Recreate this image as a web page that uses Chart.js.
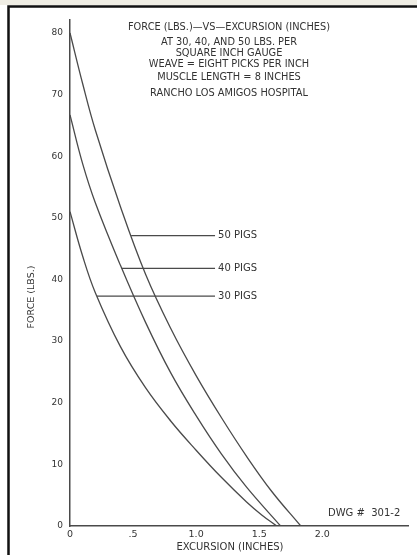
<!DOCTYPE html>
<html>
<head>
<meta charset="utf-8">
<script src="https://cdn.jsdelivr.net/npm/chart.js@4"></script>
<style>
  html, body { margin: 0; padding: 0; background: #fff; }
  #wrap { width: 417px; height: 555px; }
</style>
</head>
<body>
<div id="wrap"><canvas id="chart" width="417" height="555"></canvas></div>
<script>
// readings (excursion in inches, force in lbs)
const psi50X = [0, 0.1, 0.2, 0.4, 0.6, 0.8, 1.0, 1.2, 1.4, 1.6, 1.83];
const psi50Force = [80, 71.8, 64.3, 51.8, 40.8, 32, 24.4, 17.6, 11.3, 5.6, 0];

const psi40X = [0, 0.1, 0.2, 0.4, 0.6, 0.8, 1.0, 1.2, 1.4, 1.67];
const psi40Force = [66.7, 58.8, 52.5, 42.3, 33, 24.8, 17.9, 11.7, 6.3, 0];

const psi30X = [0, 0.1, 0.2, 0.4, 0.6, 0.8, 1.0, 1.2, 1.4, 1.52, 1.64];
const psi30Force = [51, 43.8, 37.9, 29.1, 22.4, 17.0, 12.3, 7.9, 3.9, 1.8, 0];

// leader lines: start on curve, end before the label
const labelNames = ["50 PIGS", "40 PIGS", "30 PIGS"];
const labelForce = [47.1, 41.8, 37.3];
const labelStartX = [0.485, 0.41, 0.214];
const labelEndX = 1.15;

const xTicks = [0, 0.5, 1.0, 1.5, 2.0];
const xTickLabels = ["0", ".5", "1.0", "1.5", "2.0"];
const yTicks = [0, 10, 20, 30, 40, 50, 60, 70, 80];

const titleLines = [
  "FORCE (LBS.)\u2014VS\u2014EXCURSION (INCHES)",
  "AT 30, 40, AND 50 LBS. PER",
  "SQUARE INCH GAUGE",
  "WEAVE = EIGHT PICKS PER INCH",
  "MUSCLE LENGTH = 8 INCHES",
  "RANCHO LOS AMIGOS HOSPITAL"
];
const titleLineY = [27, 42, 53, 64, 77, 93];
const drawingNo = "DWG #  301-2";
const xTitle = "EXCURSION (INCHES)";
const yTitle = "FORCE (LBS.)";

const INK = "#4a4a4a";
const TEXT = "#333";
const FONT = "DejaVu Sans";

function pts(xs, ys) {
  return xs.map((x, i) => ({ x: x, y: ys[i] }));
}

function curve(xs, ys) {
  return {
    data: pts(xs, ys),
    showLine: true,
    borderColor: INK,
    borderWidth: 1.3,
    pointRadius: 0,
    tension: 0.4
  };
}

function leader(i) {
  return {
    data: [{ x: labelStartX[i], y: labelForce[i] }, { x: labelEndX, y: labelForce[i] }],
    showLine: true,
    borderColor: INK,
    borderWidth: 1.2,
    pointRadius: 0
  };
}

const annotations = {
  id: "annotations",
  afterDraw(chart) {
    const ctx = chart.ctx;
    const xs = chart.scales.x;
    const ys = chart.scales.y;
    ctx.save();

    // frame of the drawing sheet
    ctx.fillStyle = "#efede4";
    ctx.fillRect(0, 0, 417, 5);
    ctx.strokeStyle = "#111";
    ctx.lineWidth = 2.5;
    ctx.beginPath();
    ctx.moveTo(8.5, 555);
    ctx.lineTo(8.5, 6.5);
    ctx.lineTo(417, 6.5);
    ctx.stroke();

    ctx.fillStyle = TEXT;
    ctx.textBaseline = "middle";

    ctx.font = "9.8px '" + FONT + "'";
    ctx.textAlign = "center";
    titleLines.forEach((t, i) => ctx.fillText(t, 229, titleLineY[i]));

    ctx.font = "10px '" + FONT + "'";
    ctx.textAlign = "left";
    labelNames.forEach((t, i) => {
      ctx.fillText(t, xs.getPixelForValue(labelEndX) + 3, ys.getPixelForValue(labelForce[i]));
    });

    ctx.fillText(drawingNo, 328, 513);

    ctx.textAlign = "center";
    ctx.fillText(xTitle, 230, 547);

    ctx.font = "9.5px '" + FONT + "'";
    ctx.translate(32, 297);
    ctx.rotate(-Math.PI / 2);
    ctx.fillText(yTitle, 0, 0);
    ctx.restore();
  }
};

new Chart(document.getElementById("chart"), {
  type: "scatter",
  data: {
    datasets: [
      curve(psi50X, psi50Force),
      curve(psi40X, psi40Force),
      curve(psi30X, psi30Force),
      leader(0),
      leader(1),
      leader(2)
    ]
  },
  options: {
    responsive: false,
    animation: false,
    layout: { padding: { left: 8, top: 20, right: 9, bottom: 0 } },
    plugins: {
      legend: { display: false },
      tooltip: { enabled: false }
    },
    scales: {
      x: {
        type: "linear",
        min: 0,
        max: 2.68,
        afterFit(scale) { scale.height = 29; },
        afterBuildTicks(scale) { scale.ticks = xTicks.map(v => ({ value: v })); },
        grid: { display: true, drawOnChartArea: false, drawTicks: false },
        border: { color: INK, width: 1.5 },
        ticks: {
          padding: 3,
          color: TEXT,
          font: { family: FONT, size: 9.5 },
          maxRotation: 0,
          callback: (v) => {
            const i = xTicks.indexOf(v);
            return i >= 0 ? xTickLabels[i] : "";
          }
        }
      },
      y: {
        min: 0,
        max: 82.1,
        afterFit(scale) { scale.width = 62; },
        afterBuildTicks(scale) { scale.ticks = yTicks.map(v => ({ value: v })); },
        grid: { display: true, drawOnChartArea: false, drawTicks: false },
        border: { color: INK, width: 1.5 },
        ticks: {
          padding: 7,
          color: TEXT,
          font: { family: FONT, size: 9 }
        }
      }
    }
  },
  plugins: [annotations]
});
</script>
</body>
</html>
